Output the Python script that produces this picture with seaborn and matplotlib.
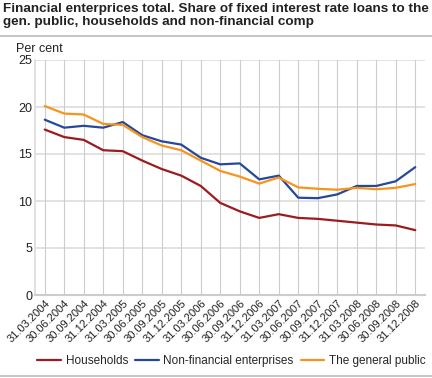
import matplotlib
matplotlib.use("Agg")
import matplotlib.pyplot as plt
import seaborn as sns
import pandas as pd

dates = ["31.03.2004", "30.06.2004", "30.09.2004", "31.12.2004", "31.03.2005",
         "30.06.2005", "30.09.2005", "31.12.2005", "31.03.2006", "30.06.2006",
         "30.09.2006", "31.12.2006", "31.03.2007", "30.06.2007", "30.09.2007",
         "31.12.2007", "31.03.2008", "30.06.2008", "30.09.2008", "31.12.2008"]
households = [17.6, 16.8, 16.5, 15.4, 15.3, 14.3, 13.4, 12.7, 11.6, 9.8,
              8.9, 8.2, 8.6, 8.2, 8.1, 7.9, 7.7, 7.5, 7.4, 6.9]
non_financial = [18.65, 17.8, 18.0, 17.8, 18.4, 17.0, 16.35, 16.0, 14.6, 13.9,
                 14.0, 12.3, 12.7, 10.35, 10.3, 10.7, 11.6, 11.6, 12.1, 13.6]
general_public = [20.1, 19.3, 19.2, 18.2, 18.1, 16.8, 15.9, 15.4, 14.3, 13.2,
                  12.6, 11.85, 12.5, 11.45, 11.3, 11.2, 11.4, 11.25, 11.4, 11.8]
series_names = ["Households", "Non-financial enterprises", "The general public"]
colors = ["#9b1b1e", "#26489b", "#f7941d"]
yticks = [0, 5, 10, 15, 20, 25]

rows = []
for name, vals in zip(series_names, [households, non_financial, general_public]):
    for i, v in enumerate(vals):
        rows.append({"idx": i, "value": v, "series": name})
df = pd.DataFrame(rows)

sns.set_theme(style="white")
plt.rcParams["font.family"] = ["Liberation Sans", "DejaVu Sans"]

fig = plt.figure(figsize=(4.32, 3.78), dpi=100)
ax = fig.add_axes([35/432, 1-295/378, (425-35)/432, (295-60)/378])

sns.lineplot(data=df, x="idx", y="value", hue="series", palette=colors,
             hue_order=series_names, linewidth=1.6, ax=ax, legend=False)

ax.set_xlim(-0.5, 19.5)
ax.set_ylim(0, 25)
ax.set_yticks(yticks)
ax.set_yticklabels([str(t) for t in yticks], fontsize=9, color="#222222")
ax.set_xticks(range(len(dates)))
ax.set_xticklabels(dates, rotation=45, ha="right", rotation_mode="anchor",
                   fontsize=8, color="#222222")
ax.tick_params(axis="both", length=0, pad=2)
ax.set_xlabel("")
ax.set_ylabel("")
for t in yticks[1:]:
    ax.axhline(t, color="#dddddd", linewidth=1.2, zorder=0)
for i in range(len(dates)):
    ax.axvline(i, color="#cccccc", linewidth=0.8, zorder=0)
for s in ["top", "right"]:
    ax.spines[s].set_visible(False)
ax.spines["left"].set_color("#dddddd")
ax.spines["bottom"].set_color("#cccccc")
ax.spines["bottom"].set_linewidth(1.5)

fig.text(3/432, 1-3/378, "Financial enterprices total. Share of fixed interest rate loans to the\ngen. public, households and non-financial comp",
         fontsize=9.7, fontweight="bold", va="top", ha="left", color="#222222", linespacing=1.15)
fig.add_artist(plt.Line2D([0, 1], [1-36/378, 1-36/378], color="#bbbbbb", linewidth=1.2))
fig.add_artist(plt.Line2D([0, 1], [1-376/378, 1-376/378], color="#bbbbbb", linewidth=1.2))
fig.text(16/432, 1-49/378, "Per cent", fontsize=9, va="center", ha="left", color="#222222")

handles = [plt.Line2D([0], [0], color=c, linewidth=1.6) for c in colors]
fig.legend(handles, series_names, loc="center", bbox_to_anchor=(0.536, 1-361/378),
           ncol=3, frameon=False, fontsize=8.5, handlelength=2.0, columnspacing=0.6,
           handletextpad=0.4)

fig.savefig("out.png", dpi=100)
